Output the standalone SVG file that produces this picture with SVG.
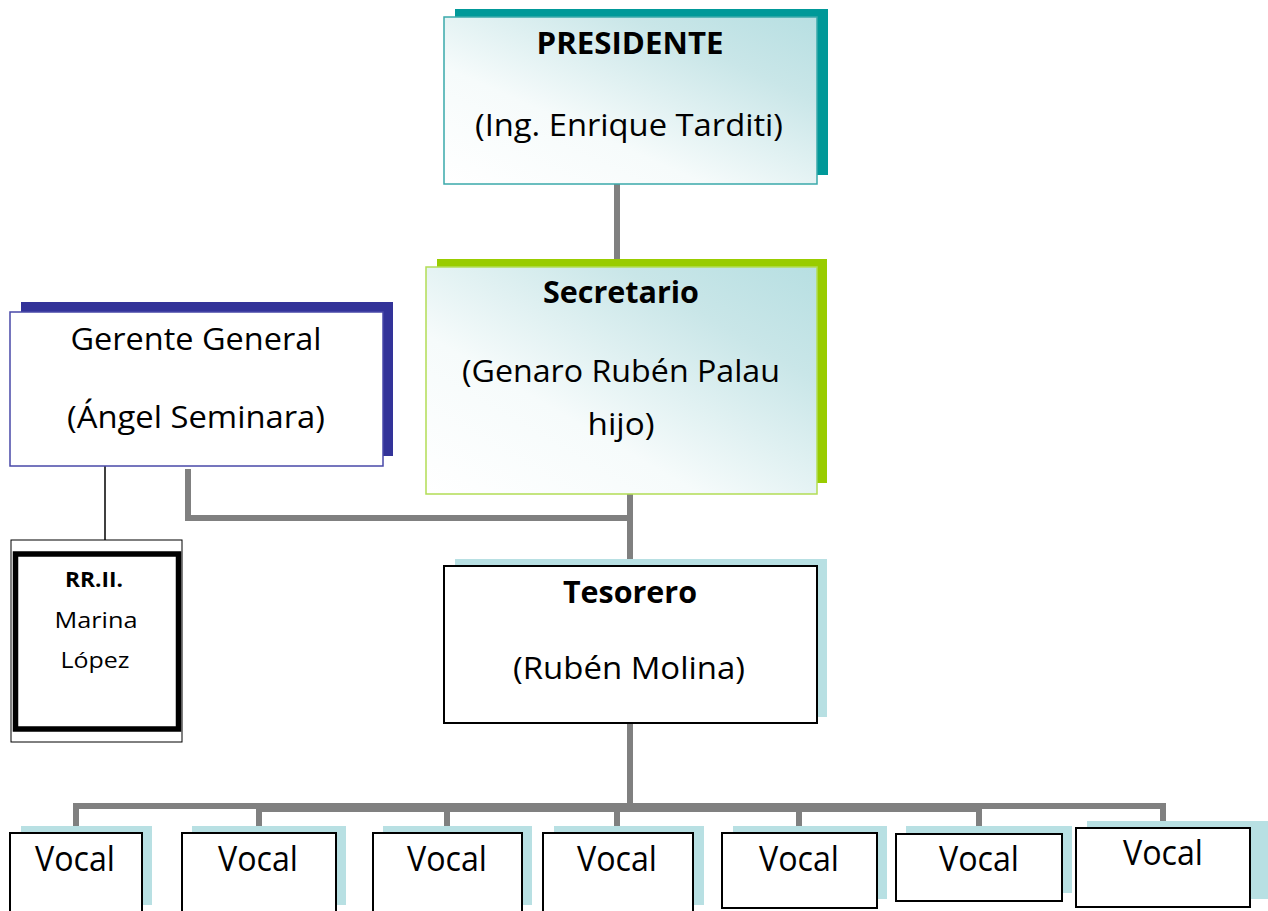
<svg xmlns="http://www.w3.org/2000/svg" width="1268" height="911" viewBox="0 0 1268 911">
<defs>
<linearGradient id="grad" x1="0" y1="1" x2="1" y2="0">
<stop offset="0" stop-color="#ffffff"/>
<stop offset="0.35" stop-color="#f6fbfb"/>
<stop offset="0.75" stop-color="#c9e6e8"/>
<stop offset="1" stop-color="#b7dfe2"/>
</linearGradient>
<style>
.t{font-family:"Open Sans","Liberation Sans",sans-serif;fill:#000;text-anchor:middle}
.b{font-weight:bold}
.c{fill:none;stroke:#808080;stroke-width:6}
.sh{fill:#b8e0e3}
.vb{fill:#fff;stroke:#000;stroke-width:2}
</style>
</defs>
<rect width="1268" height="911" fill="#fff"/>

<g id="connectors">
<line class="c" x1="617" y1="184" x2="617" y2="267"/>
<line class="c" x1="630" y1="494" x2="630" y2="566"/>
<polyline class="c" points="188,469 188,518 633,518"/>
<line x1="105" y1="466" x2="105" y2="540" stroke="#000" stroke-width="1.5"/>
<line class="c" x1="630" y1="723" x2="630" y2="806"/>
<polyline class="c" points="76,826 76,806 1163,806 1163,821"/>
<polyline class="c" points="259,826 259,809 979,809 979,826"/>
<line class="c" x1="447" y1="806" x2="447" y2="826"/>
<line class="c" x1="617" y1="806" x2="617" y2="826"/>
<line class="c" x1="799" y1="806" x2="799" y2="826"/>
</g>

<g id="presidente">
<rect x="455" y="9" width="373" height="166" fill="#009999"/>
<rect x="444" y="17" width="373" height="167" fill="url(#grad)" stroke="#3aa9aa" stroke-width="1.5"/>
<text class="t b" x="630" y="54" font-size="31" textLength="187" lengthAdjust="spacingAndGlyphs">PRESIDENTE</text>
<text class="t" x="629" y="136" font-size="31" textLength="308" lengthAdjust="spacingAndGlyphs">(Ing. Enrique Tarditi)</text>
</g>

<g id="gerente">
<rect x="21" y="302" width="372" height="154" fill="#333399"/>
<rect x="10" y="312" width="373" height="154" fill="#fff" stroke="#4848a8" stroke-width="1.5"/>
<text class="t" x="196" y="350" font-size="31" textLength="251" lengthAdjust="spacingAndGlyphs">Gerente General</text>
<text class="t" x="196" y="428" font-size="31" textLength="258" lengthAdjust="spacingAndGlyphs">(Ángel Seminara)</text>
</g>

<g id="secretario">
<rect x="437" y="259" width="390" height="224" fill="#99cc00"/>
<rect x="426" y="267" width="391" height="227" fill="url(#grad)" stroke="#b2dd55" stroke-width="1.5"/>
<text class="t b" x="621" y="303" font-size="31" textLength="156" lengthAdjust="spacingAndGlyphs">Secretario</text>
<text class="t" x="621" y="382" font-size="31" textLength="318" lengthAdjust="spacingAndGlyphs">(Genaro Rubén Palau</text>
<text class="t" x="621" y="435" font-size="31" textLength="67" lengthAdjust="spacingAndGlyphs">hijo)</text>
</g>

<g id="rrii">
<rect x="11" y="540" width="171" height="202" fill="#fff" stroke="#000" stroke-width="1"/>
<rect x="15.5" y="554" width="163" height="175" fill="#fff" stroke="#000" stroke-width="5.5"/>
<text class="t b" x="94" y="587" font-size="21" textLength="58" lengthAdjust="spacingAndGlyphs">RR.II.</text>
<text class="t" x="96" y="628" font-size="22" textLength="83" lengthAdjust="spacingAndGlyphs">Marina</text>
<text class="t" x="95" y="668" font-size="22" textLength="69" lengthAdjust="spacingAndGlyphs">López</text>
</g>

<g id="tesorero">
<rect class="sh" x="455" y="559" width="372" height="158"/>
<rect x="444" y="566" width="373" height="157" fill="#fff" stroke="#000" stroke-width="2"/>
<text class="t b" x="630" y="603" font-size="31" textLength="134" lengthAdjust="spacingAndGlyphs">Tesorero</text>
<text class="t" x="629" y="679" font-size="31" textLength="232" lengthAdjust="spacingAndGlyphs">(Rubén Molina)</text>
</g>

<g id="vocal1">
<rect class="sh" x="21" y="826" width="131" height="79"/>
<rect class="vb" x="10" y="833" width="132" height="85"/>
<text class="t" x="75" y="871" font-size="34" textLength="80" lengthAdjust="spacingAndGlyphs">Vocal</text>
</g>
<g id="vocal2">
<rect class="sh" x="192" y="826" width="154" height="79"/>
<rect class="vb" x="182" y="833" width="154" height="85"/>
<text class="t" x="258" y="871" font-size="34" textLength="80" lengthAdjust="spacingAndGlyphs">Vocal</text>
</g>
<g id="vocal3">
<rect class="sh" x="383" y="826" width="149" height="79"/>
<rect class="vb" x="373" y="833" width="149" height="85"/>
<text class="t" x="447" y="871" font-size="34" textLength="80" lengthAdjust="spacingAndGlyphs">Vocal</text>
</g>
<g id="vocal4">
<rect class="sh" x="554" y="826" width="150" height="79"/>
<rect class="vb" x="543" y="833" width="150" height="85"/>
<text class="t" x="617" y="871" font-size="34" textLength="80" lengthAdjust="spacingAndGlyphs">Vocal</text>
</g>
<g id="vocal5">
<rect class="sh" x="733" y="826" width="154" height="73"/>
<rect class="vb" x="722" y="833" width="155" height="75"/>
<text class="t" x="799" y="871" font-size="34" textLength="80" lengthAdjust="spacingAndGlyphs">Vocal</text>
</g>
<g id="vocal6">
<rect class="sh" x="906" y="826" width="166" height="67"/>
<rect class="vb" x="896" y="834" width="166" height="67"/>
<text class="t" x="979" y="871" font-size="34" textLength="80" lengthAdjust="spacingAndGlyphs">Vocal</text>
</g>
<g id="vocal7">
<rect class="sh" x="1087" y="821" width="181" height="78"/>
<rect class="vb" x="1076" y="828" width="174" height="79"/>
<text class="t" x="1163" y="865" font-size="34" textLength="80" lengthAdjust="spacingAndGlyphs">Vocal</text>
</g>
</svg>
